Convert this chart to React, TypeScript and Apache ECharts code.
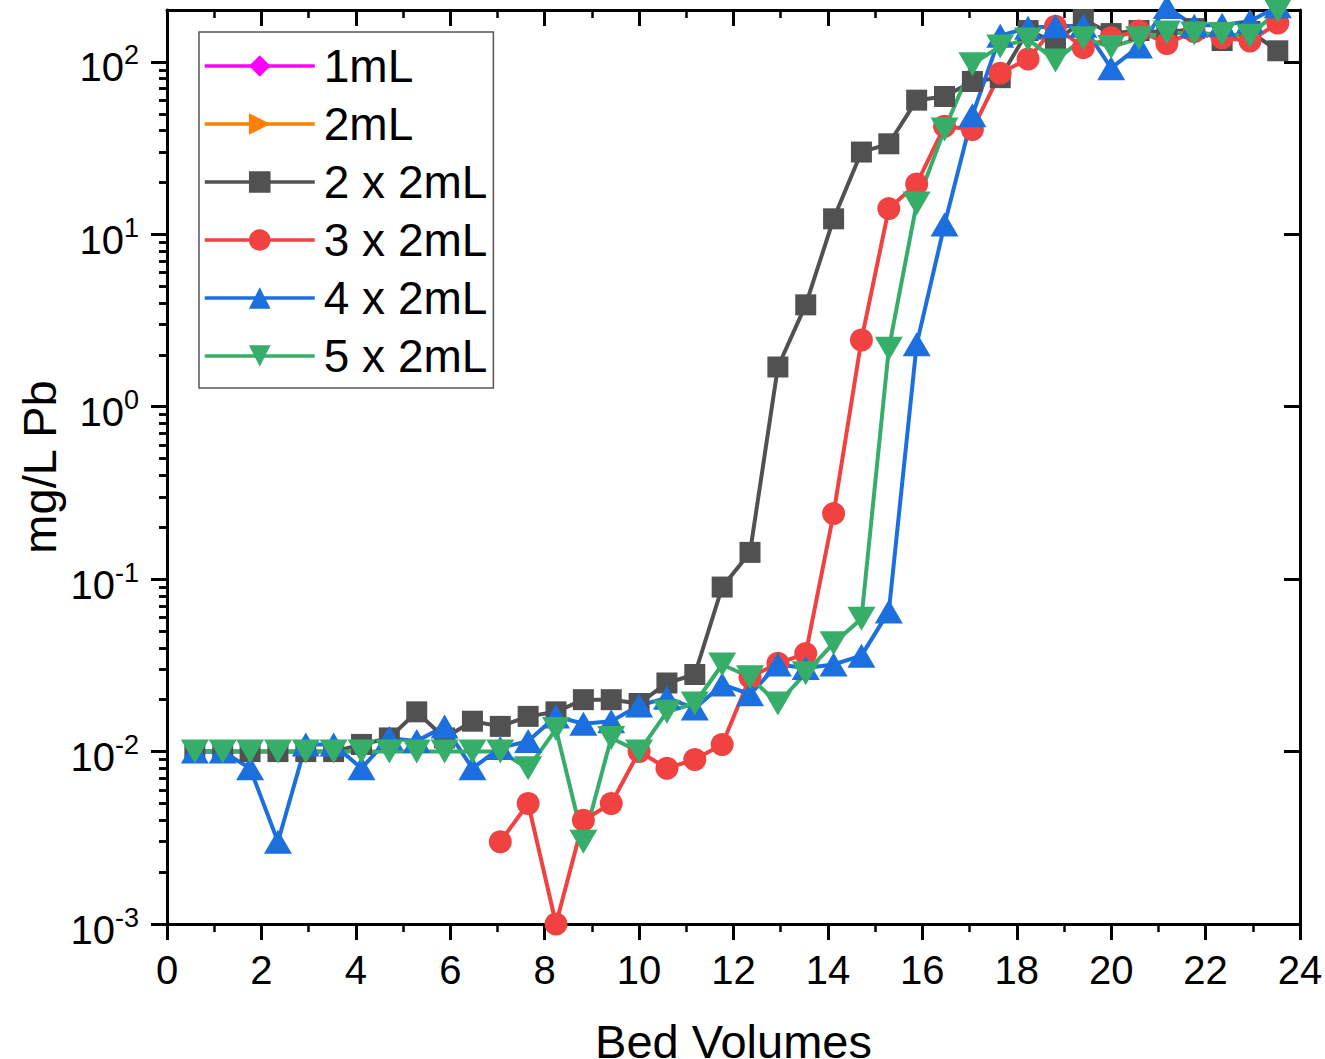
import React, { useEffect, useRef } from "react";
import * as echarts from "echarts";

const FONT = "'Liberation Sans', Arial, Helvetica, sans-serif";

// Bed volumes (x positions of samples)
const bedVolumes = [
  0.59, 1.18, 1.76, 2.35, 2.94, 3.53, 4.12, 4.71, 5.29, 5.88,
  6.47, 7.06, 7.65, 8.24, 8.82, 9.41, 10.0, 10.59, 11.18, 11.76,
  12.35, 12.94, 13.53, 14.12, 14.71, 15.29, 15.88, 16.47, 17.06, 17.65,
  18.24, 18.82, 19.41, 20.0, 20.59, 21.18, 21.76, 22.35, 22.94, 23.53,
];

const series1mL: (number | null)[] = [];
const series2mL: (number | null)[] = [];

const series2x2mL = [
  0.01, 0.01, 0.01, 0.01, 0.01, 0.01, 0.011, 0.012, 0.017, 0.012,
  0.015, 0.014, 0.016, 0.017, 0.02, 0.02, 0.019, 0.025, 0.028, 0.09,
  0.143, 1.7, 3.9, 12.3, 30, 33.5, 60, 63, 77, 81,
  152, 130, 176, 146, 152, 148, 156, 133, 150, 116,
];

const series3x2mL = [
  null, null, null, null, null, null, null, null, null, null,
  null, 0.003, 0.005, 0.001, 0.004, 0.005, 0.01, 0.008, 0.009, 0.011,
  0.027, 0.0325, 0.037, 0.24, 2.44, 14.1, 19.6, 42.3, 40.5, 86,
  104, 161, 121, 138, 151, 128, 150, 138, 132, 168,
];

const series4x2mL = [
  0.01, 0.01, 0.008, 0.003, 0.011, 0.011, 0.008, 0.012, 0.0115, 0.014,
  0.008, 0.0105, 0.0115, 0.016, 0.0145, 0.015, 0.0185, 0.0205, 0.0178, 0.0245,
  0.0215, 0.032, 0.0305, 0.032, 0.036, 0.065, 2.3, 11.4, 49, 142,
  158, 161, 162, 92, 123, 208, 162, 164, 172, 210,
];

const series5x2mL = [
  0.01, 0.01, 0.01, 0.01, 0.01, 0.01, 0.01, 0.01, 0.01, 0.01,
  0.01, 0.01, 0.008, 0.0135, 0.003, 0.012, 0.01, 0.017, 0.019, 0.032,
  0.027, 0.019, 0.0285, 0.0425, 0.059, 2.17, 15.1, 40.5, 97, 123,
  135, 102, 137, 122, 137, 148, 146, 145, 142, 198,
];

const seriesNames = ["1mL", "2mL", "2 x 2mL", "3 x 2mL", "4 x 2mL", "5 x 2mL"];
const seriesColors = ["#ff00ff", "#ff8000", "#515151", "#ef4241", "#1b6fde", "#37ad6a"];

const xTickLabels = [0, 2, 4, 6, 8, 10, 12, 14, 16, 18, 20, 22, 24];
const yMajorTicks = [0.001, 0.01, 0.1, 1, 10, 100];

function minorLogTicks(): number[] {
  const out: number[] = [];
  for (const dec of yMajorTicks) {
    for (let k = 2; k <= 9; k++) {
      const v = Number((k * dec).toPrecision(3));
      if (v < 200) out.push(v);
    }
  }
  return out;
}

function pairs(vals: (number | null)[]) {
  const out: number[][] = [];
  vals.forEach((v, i) => {
    if (v !== null && v !== undefined) out.push([bedVolumes[i], v]);
  });
  return out;
}

export default function App() {
  const ref = useRef<HTMLDivElement>(null);

  useEffect(() => {
    if (!ref.current) return;
    const chart = echarts.init(ref.current, undefined, { renderer: "svg" });
    const minors = minorLogTicks();
    const black = "#000";

    const yBase = { type: "log", logBase: 10, min: 0.001, max: 200, splitLine: { show: false }, minorSplitLine: { show: false } };

    const symbols = [
      "diamond",
      "path://M0,0 L10,5 L0,10 Z",
      "rect",
      "circle",
      "triangle",
      "path://M0,0 L10,0 L5,10 Z",
    ];
    const sizes: any[] = [24, 24, 21, 23, [28, 24], [28, 24]];
    const datas = [series1mL, series2mL, series2x2mL, series3x2mL, series4x2mL, series5x2mL];

    const option: any = {
      animation: false,
      backgroundColor: "#fff",
      grid: { left: 167, right: 25, top: 10, bottom: 135, containLabel: false, outerBoundsMode: "none" },
      legend: {
        orient: "vertical",
        left: 199,
        top: 32,
        padding: [9, 6, 7, 4],
        itemWidth: 110,
        itemHeight: 27,
        itemGap: 8,
        borderColor: "#555",
        borderWidth: 1.5,
        backgroundColor: "#fff",
        selectedMode: false,
        data: seriesNames,
        lineStyle: { width: 3.5 },
        textStyle: { fontSize: 46, fontFamily: FONT, color: black, lineHeight: 50, padding: [0, 0, 0, 4] },
      },
      xAxis: [
        {
          type: "value",
          min: 0,
          max: 24,
          interval: 2,
          position: "bottom",
          axisLine: { show: true, onZero: false, lineStyle: { color: black, width: 3 } },
          axisTick: { show: true, inside: false, length: 16, lineStyle: { color: black, width: 3 } },
          minorTick: { show: true, splitNumber: 2, length: 8, lineStyle: { color: black, width: 2.5 } },
          splitLine: { show: false },
          minorSplitLine: { show: false },
          axisLabel: {
            show: true,
            fontSize: 40,
            fontFamily: FONT,
            color: black,
            margin: 26,
            showMinLabel: true,
            showMaxLabel: true,
            customValues: xTickLabels,
          },
          name: "Bed Volumes",
          nameLocation: "middle",
          nameGap: 94,
          nameMoveOverlap: false,
          nameTextStyle: { fontSize: 47, fontFamily: FONT, color: black },
        },
        {
          type: "value",
          min: 0,
          max: 24,
          interval: 2,
          position: "top",
          axisLine: { show: true, onZero: false, lineStyle: { color: black, width: 3 } },
          axisTick: { show: true, inside: true, length: 16, lineStyle: { color: black, width: 3 } },
          minorTick: { show: true, splitNumber: 2, length: 8, lineStyle: { color: black, width: 2.5 } },
          splitLine: { show: false },
          minorSplitLine: { show: false },
          axisLabel: { show: false },
        },
      ],
      yAxis: [
        {
          ...yBase,
          position: "left",
          axisLine: { show: true, onZero: false, lineStyle: { color: black, width: 3 } },
          axisTick: { show: true, inside: false, length: 16, lineStyle: { color: black, width: 3 }, customValues: yMajorTicks },
          axisLabel: {
            show: true,
            margin: 28,
            customValues: yMajorTicks,
            formatter: (v: number) => {
              const e = Math.round(Math.log10(v));
              return `{a|10}{b|${e}}`;
            },
            rich: {
              a: { fontSize: 40, fontFamily: FONT, color: black, lineHeight: 40, padding: [11, 0, 0, 0] },
              b: { fontSize: 27, fontFamily: FONT, color: black, lineHeight: 27, verticalAlign: "top" },
            },
          },
          name: "mg/L Pb",
          nameLocation: "middle",
          nameGap: 104,
          nameMoveOverlap: false,
          nameTextStyle: { fontSize: 47, fontFamily: FONT, color: black },
        },
        {
          ...yBase,
          position: "left",
          axisLine: { show: false },
          axisTick: { show: true, inside: false, length: 8, lineStyle: { color: black, width: 2.5 }, customValues: minors },
          axisLabel: { show: false },
        },
        {
          ...yBase,
          position: "right",
          axisLine: { show: true, onZero: false, lineStyle: { color: black, width: 3 } },
          axisTick: { show: true, inside: true, length: 16, lineStyle: { color: black, width: 3 }, customValues: yMajorTicks },
          axisLabel: { show: false },
        },
        {
          ...yBase,
          position: "right",
          axisLine: { show: false },
          axisTick: { show: true, inside: true, length: 8, lineStyle: { color: black, width: 2.5 }, customValues: minors },
          axisLabel: { show: false },
        },
      ],
      series: seriesNames.map((name, i) => ({
        name,
        type: "line",
        xAxisIndex: 0,
        yAxisIndex: 0,
        data: pairs(datas[i]),
        symbol: symbols[i],
        symbolSize: sizes[i],
        showAllSymbol: true,
        clip: false,
        color: seriesColors[i],
        lineStyle: { color: seriesColors[i], width: 4 },
        itemStyle: { color: seriesColors[i], borderWidth: 0 },
        emphasis: { disabled: true },
      })),
    };

    chart.setOption(option);
    return () => chart.dispose();
  }, []);

  return (
    <div
      ref={ref}
      style={{ position: "absolute", left: 0, top: 0, width: 1325, height: 1059, background: "#fff" }}
    />
  );
}
